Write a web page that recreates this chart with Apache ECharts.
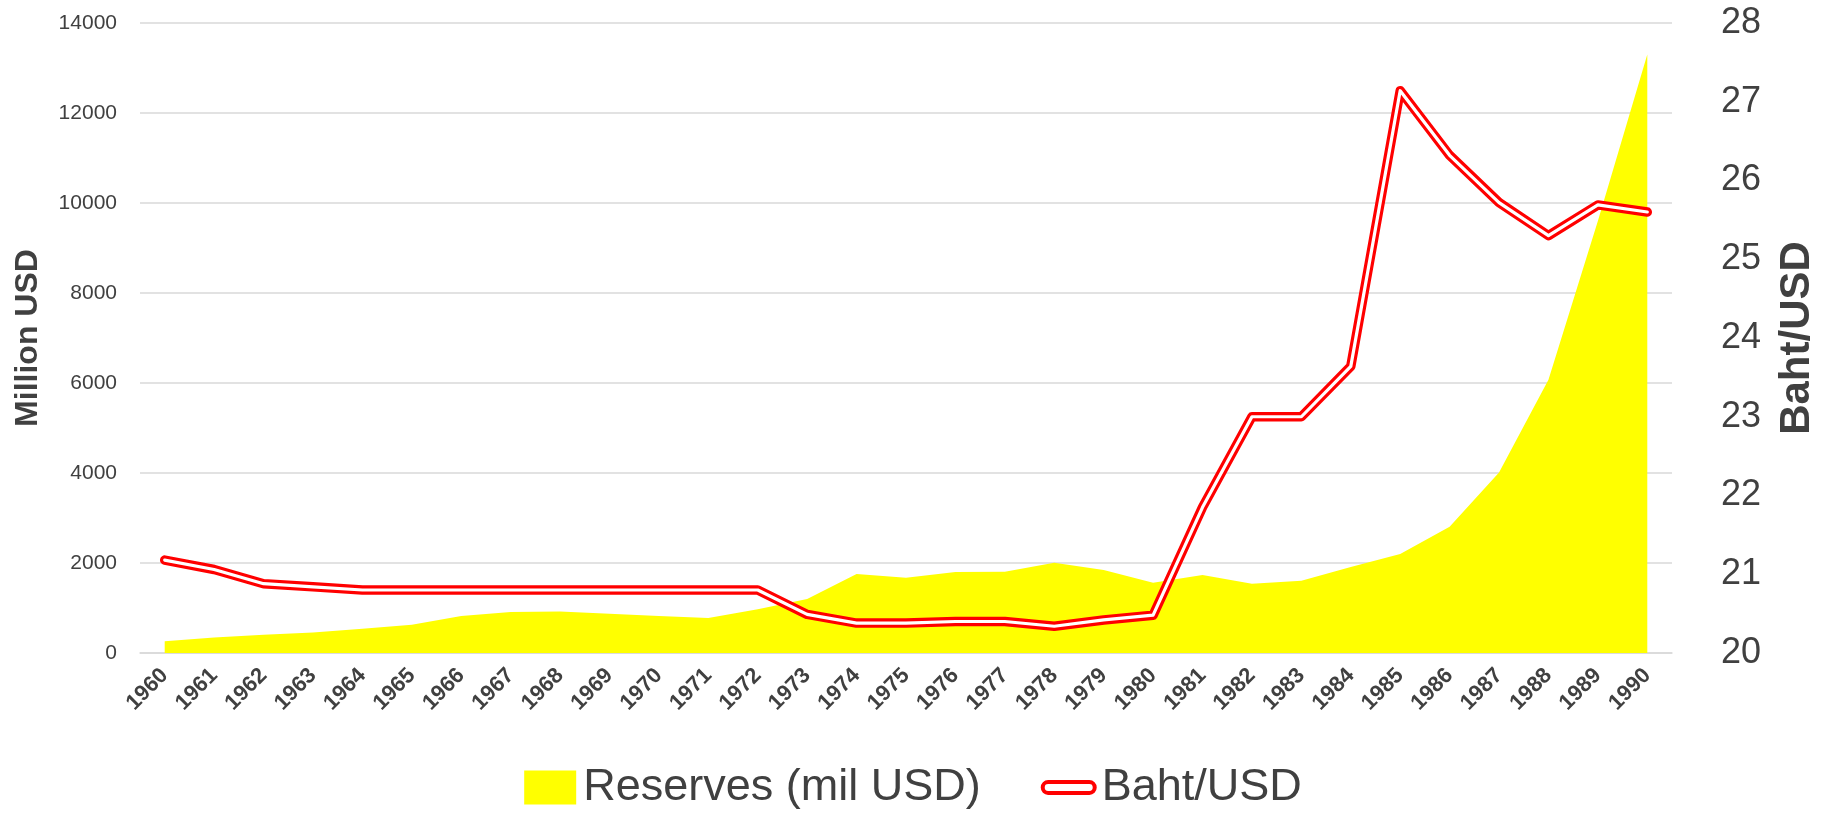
<!DOCTYPE html>
<html>
<head>
<meta charset="utf-8">
<script src="https://cdn.jsdelivr.net/npm/echarts@6/dist/echarts.min.js"></script>
<style>
  html, body { margin: 0; padding: 0; background: #fff; }
  #chart { width: 1826px; height: 813px; }
</style>
</head>
<body>
<div id="chart"></div>
<script>
// 泰国外汇储备与泰铢汇率 1960-1990
var years = ['1960','1961','1962','1963','1964','1965','1966','1967','1968','1969',
             '1970','1971','1972','1973','1974','1975','1976','1977','1978','1979',
             '1980','1981','1982','1983','1984','1985','1986','1987','1988','1989','1990'];

// 储备 (百万美元)
var reserves = [261, 343, 403, 455, 537, 627, 821, 910, 925, 873,
                821, 776, 970, 1201, 1754, 1672, 1798, 1806, 2007, 1843,
                1560, 1731, 1537, 1604, 1910, 2201, 2806, 4010, 6070, 9600, 13300];

// 泰铢/美元
var bahtUsd = [21.18, 21.06, 20.88, 20.84, 20.80, 20.80, 20.80, 20.80, 20.80, 20.80,
               20.80, 20.80, 20.80, 20.49, 20.38, 20.38, 20.40, 20.40, 20.34, 20.42,
               20.48, 21.85, 23.00, 23.00, 23.64, 27.14, 26.32, 25.72, 25.30, 25.69, 25.60];

var leftAxis = { name: 'Million USD', min: 0, max: 14000, step: 2000 };
var rightAxis = { name: 'Baht/USD', min: 20, max: 28, step: 1 };

var TXT = '#404040';
var FONT = 'Liberation Sans';

var chart = echarts.init(document.getElementById('chart'));

var option = {
    animation: false,
    backgroundColor: '#fff',
    grid: { left: 140, right: 152, top: 23, bottom: 160 },
    legend: {
        left: 'center',
        top: 760,
        itemGap: 60,
        itemWidth: 52,
        itemHeight: 34,
        textStyle: { color: TXT, fontSize: 45, fontFamily: FONT, padding: [0, 0, 0, 2] },
        data: [
            { name: 'Reserves (mil USD)', icon: 'rect', itemStyle: { color: '#ffff00' } },
            { name: 'Baht/USD',
              icon: 'path://M6,0 H52 A6,6 0 0 1 52,12 H6 A6,6 0 0 1 6,0 Z',
              itemStyle: { color: '#fff', borderColor: '#ff0000', borderWidth: 4 } }
        ]
    },
    xAxis: {
        type: 'category',
        data: years,
        boundaryGap: true,
        axisLine: { lineStyle: { color: '#d9d9d9', width: 1.5 } },
        axisTick: { show: false },
        axisLabel: {
            interval: 0, rotate: 45, margin: 19,
            color: TXT, fontSize: 22, fontWeight: 'bold', fontFamily: FONT
        }
    },
    yAxis: [{
        type: 'value',
        name: leftAxis.name,
        nameLocation: 'middle',
        nameRotate: 90,
        nameGap: 96,
        nameTextStyle: { color: TXT, fontSize: 32, fontWeight: 'bold', fontFamily: FONT },
        min: leftAxis.min, max: leftAxis.max, interval: leftAxis.step,
        axisLine: { show: false },
        axisTick: { show: false },
        axisLabel: {
            margin: 23, color: TXT, fontSize: 21, fontFamily: FONT,
            formatter: function (v) { return String(v); }
        },
        splitLine: { lineStyle: { color: '#d9d9d9', width: 1.5 } }
    }, {
        type: 'value',
        name: rightAxis.name,
        nameLocation: 'middle',
        nameRotate: 90,
        nameGap: 104,
        nameTextStyle: { color: TXT, fontSize: 42, fontWeight: 'bold', fontFamily: FONT },
        min: rightAxis.min, max: rightAxis.max, interval: rightAxis.step,
        position: 'right',
        axisLine: { show: false },
        axisTick: { show: false },
        axisLabel: { margin: 49, color: TXT, fontSize: 36, fontFamily: FONT },
        splitLine: { show: false }
    }],
    series: [{
        name: 'Reserves (mil USD)',
        type: 'line',
        data: reserves,
        symbol: 'none',
        lineStyle: { width: 0 },
        itemStyle: { color: '#ffff00' },
        areaStyle: { color: '#ffff00', opacity: 1 },
        z: 1
    }, {
        name: 'Baht/USD',
        type: 'line',
        yAxisIndex: 1,
        data: bahtUsd,
        symbol: 'none',
        itemStyle: { color: '#ff0000' },
        lineStyle: { color: '#ff0000', width: 9.5, cap: 'round', join: 'round' },
        z: 3
    }, {
        name: 'Baht/USD inner',
        type: 'line',
        yAxisIndex: 1,
        data: bahtUsd,
        symbol: 'none',
        lineStyle: { color: '#ffffff', width: 3.2, cap: 'round', join: 'round' },
        z: 4
    }]
};

chart.setOption(option);
</script>
</body>
</html>
